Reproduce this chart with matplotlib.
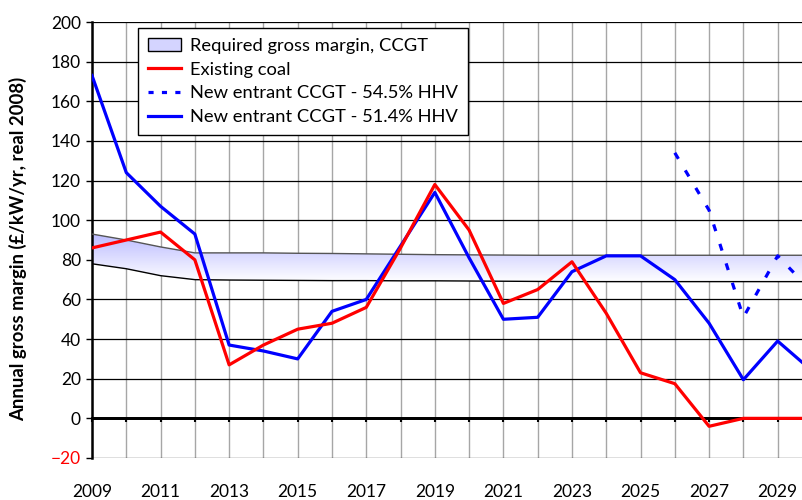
import numpy as np
import matplotlib
matplotlib.use("Agg")
from matplotlib import pyplot as plt
from matplotlib.lines import Line2D
from matplotlib.patches import Patch
from matplotlib.ticker import MultipleLocator

plt.rcParams['font.family'] = ['Lato', 'DejaVu Sans']

# ---- data ----
years = list(range(2009, 2031))

coal = [86, 90, 94, 80, 27, 37, 45, 48, 56, 86, 118, 95, 58, 65, 79, 53,
        23, 17.5, -4, 0, 0, 0]
ccgt_514 = [173, 124, 107, 93, 37, 34, 30, 54, 60, 87, 114, 81, 50, 51, 74, 82,
            82, 70, 48, 19.5, 39, 24]
years_545 = [2026, 2027, 2028, 2029, 2030]
ccgt_545 = [134, 105, 51, 82, 64]

band_upper = [93, 90, 86.5, 83.5, 83.5, 83.5, 83.3, 83.2, 83, 82.8, 82.6, 82.5,
              82.4, 82.3, 82.3, 82.3, 82.3, 82.3, 82.3, 82.3, 82.3, 82.3]
band_lower = [78, 75.5, 72, 70, 69.8, 69.7, 69.6, 69.5, 69.5, 69.4, 69.4, 69.3,
              69.2, 69.1, 69, 69, 69, 69, 69, 69, 69, 69]

label_years = list(range(2009, 2030, 2))

# ---- figure ----
fig = plt.figure(figsize=(8.02, 5.0), dpi=100)
ax = fig.add_axes([92 / 802, 42 / 500, 1 - 92 / 802, 436 / 500])

ax.set_xlim(2009, 2029.71)
ax.set_ylim(-20, 200)

# grid
ax.yaxis.set_major_locator(MultipleLocator(20))
ax.xaxis.set_minor_locator(MultipleLocator(1))
ax.set_xticks(label_years)
for y in range(-20, 201, 20):
    ax.axhline(y, color='black', lw=0.9, zorder=1)
for x in years:
    ax.axvline(x, color='#a6a6a6', lw=1.0, zorder=0.5)
ax.axhline(0, color='black', lw=2.0, zorder=2)

# required gross margin band with vertical gradient
poly = ax.fill_between(years, band_lower, band_upper, facecolor='none',
                       edgecolor='none', zorder=2)
grad = np.linspace(0, 1, 256).reshape(-1, 1)
cmap = matplotlib.colors.LinearSegmentedColormap.from_list(
    'band', ['#ffffff', '#bcbcff'])
img = ax.imshow(grad, cmap=cmap, aspect='auto', origin='lower',
                extent=[2009, 2031, min(band_lower), max(band_upper)],
                zorder=2)
img.set_clip_path(poly.get_paths()[0], transform=ax.transData)
ax.plot(years, band_upper, color='#555555', lw=1.0, zorder=3)
ax.plot(years, band_lower, color='black', lw=1.0, zorder=3)

# series
ax.plot(years, coal, color='#ff0000', lw=2.3, zorder=5)
ax.plot(years, ccgt_514, color='#0000ff', lw=2.3, zorder=4)
ax.plot(years_545, ccgt_545, color='#0000ff', lw=2.3, zorder=4,
        linestyle=(0, (2.2, 4.2)))

# spines / ticks
for s in ['top', 'right']:
    ax.spines[s].set_visible(False)
ax.spines['left'].set_linewidth(1.8)
ax.spines['bottom'].set_position(('data', 0))
ax.spines['bottom'].set_linewidth(2.0)
ax.tick_params(axis='x', which='both', direction='out', length=3, width=1.5,
               labelsize=12.5, pad=44)
ax.tick_params(axis='y', direction='out', length=4, width=1, labelsize=12.5,
               pad=4)
ax.set_xticklabels([str(y) for y in label_years])
fig.canvas.draw()
for t in ax.get_yticklabels():
    if t.get_position()[1] < 0:
        t.set_color('red')

ax.set_ylabel('Annual gross margin (£/kW/yr, real 2008)', fontsize=13.3,
              fontweight='bold')
ax.yaxis.set_label_coords(-0.092, 0.479)

# legend
handles = [
    Patch(facecolor='#d4d4ff', edgecolor='black', lw=1),
    Line2D([], [], color='#ff0000', lw=2.3),
    Line2D([], [], color='#0000ff', lw=2.3, linestyle=(0, (1.6, 2.6))),
    Line2D([], [], color='#0000ff', lw=2.3),
]
labels = ['Required gross margin, CCGT', 'Existing coal',
          'New entrant CCGT - 54.5% HHV', 'New entrant CCGT - 51.4% HHV']
leg = ax.legend(handles, labels, loc='upper left',
                bbox_to_anchor=(46 / 710, 430 / 436), borderaxespad=0,
                fontsize=13.2, frameon=True, fancybox=False, framealpha=1,
                edgecolor='black', handlelength=1.8, handletextpad=0.5,
                labelspacing=0.42, borderpad=0.55)
leg.get_frame().set_linewidth(1.0)
leg.set_zorder(10)

plt.savefig('out.png', dpi=100)
